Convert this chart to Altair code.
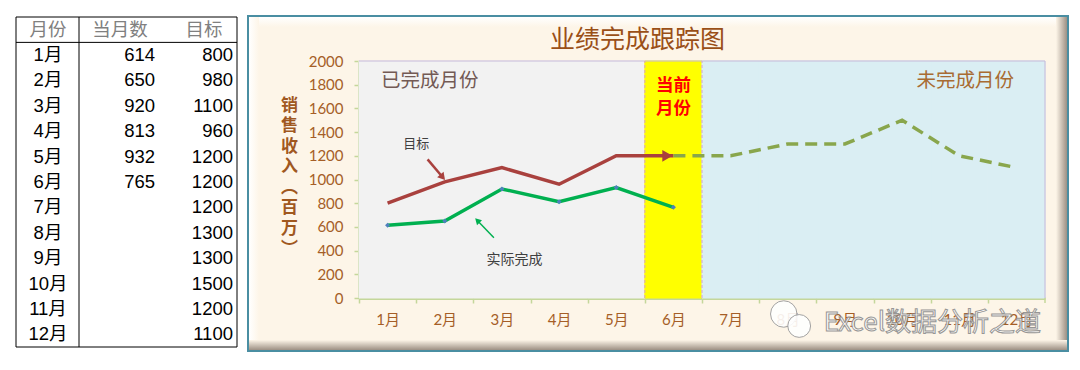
import altair as alt
import pandas as pd

# ---------------- data ----------------
months = ["1月", "2月", "3月", "4月", "5月", "6月", "7月", "8月", "9月", "10月", "11月", "12月"]
month_num = [1, 2, 3, 4, 5, 6, 7, 8, 9, 10, 11, 12]
actual = [614, 650, 920, 813, 932, 765]
target = [800, 980, 1100, 960, 1200, 1200, 1200, 1300, 1300, 1500, 1200, 1100]
status = ["已完成", "已完成", "已完成", "已完成", "已完成", "当前",
          "未完成", "未完成", "未完成", "未完成", "未完成", "未完成"]
status_names = ["已完成", "当前", "未完成"]
table_header = ["月份", "当月数", "目标"]
y_ticks = [0, 200, 400, 600, 800, 1000, 1200, 1400, 1600, 1800, 2000]
chart_title = "业绩完成跟踪图"
y_title = ["销", "售", "收", "入", "︵", "百", "万", "︶"]
done_label = "已完成月份"
todo_label = "未完成月份"
current_label = ["当前", "月份"]
target_note = "目标"
actual_note = "实际完成"
watermark = "Excel数据分析之道"

# ---------------- styling ----------------
W, H = 686, 237
Y_MIN, Y_MAX = 0, 2000
X_MIN, X_MAX = 0.5, 12.5
CJK = "Noto Sans CJK SC"
LAT = "Lato, Noto Sans CJK SC"
ARI = "Liberation Sans, Noto Sans CJK SC"
BROWN = "#a55e27"
CREAM = "#fdf5e8"
TEAL = "#4a8ea2"
AXIS_GREEN = "#c4d79b"
RED_BROWN = "#a9413e"
OLIVE = "#89a64c"
GREEN = "#00b050"
BAND_COLORS = ["#f2f2f2", "#ffff00", "#daeef3"]

# ---------------- frames ----------------
line_df = pd.DataFrame({"m": month_num, "month": months, "target": target, "status": status})
actual_df = pd.DataFrame({"m": month_num[:len(actual)], "actual": actual})
cur_idx = status.index("当前")
solid_df = line_df.iloc[: cur_idx + 1].reset_index(drop=True)
dash_df = line_df.iloc[cur_idx:].reset_index(drop=True)
band_df = pd.DataFrame({"start": [m - 0.5 for m in month_num],
                        "end": [m + 0.5 for m in month_num],
                        "lo": Y_MIN, "hi": Y_MAX,
                        "status": status})
cur_df = band_df[band_df["status"] == "当前"].reset_index(drop=True)
last_df = band_df.tail(1).reset_index(drop=True)
one = pd.DataFrame({"k": [0]})

x_scale = alt.Scale(domain=[X_MIN, X_MAX], nice=False, zero=False)
y_scale = alt.Scale(domain=[Y_MIN, Y_MAX], nice=False)

x_axis = alt.Axis(
    title=None,
    values=[m - 0.5 for m in month_num],
    labelExpr="(datum.value + 0.5) + '月'",
    labelOffset=W / 24, labelFlush=False, labelOverlap=False, labelBound=False,
    labelColor=BROWN, labelFont=LAT, labelFontSize=15, labelPadding=9,
    tickColor=AXIS_GREEN, tickSize=5, tickWidth=1.5,
    domainColor=AXIS_GREEN, domainWidth=3, grid=False,
)
y_axis = alt.Axis(
    title=y_title, format="d",
    values=y_ticks, labelColor=BROWN, labelFont=LAT, labelFontSize=15, labelPadding=11,
    tickColor=AXIS_GREEN, tickSize=5, tickWidth=1.5,
    domainColor=AXIS_GREEN, domainWidth=3, grid=False,
    titleAngle=0, titleAlign="center", titleBaseline="top", titleX=-70, titleY=36,
    titleFont=CJK, titleFontSize=17, titleFontWeight="bold", titleColor="#a0581f",
    titleLineHeight=20.5,
)


def X(field):
    return alt.X(field, type="quantitative", scale=x_scale, axis=x_axis)


def Y(field):
    return alt.Y(field, type="quantitative", scale=y_scale, axis=y_axis)


def grad(c1, c2, horizontal):
    return alt.Gradient(gradient="linear",
                        stops=[alt.GradientStop(color=c1, offset=0), alt.GradientStop(color=c2, offset=1)],
                        x1=0, y1=0, x2=1 if horizontal else 0, y2=0 if horizontal else 1)


band_scale = alt.Scale(domain=status_names, range=BAND_COLORS)
bands = alt.Chart(band_df).mark_rect(strokeWidth=1).encode(
    x=X("start"), x2="end", y=Y("lo"), y2="hi",
    fill=alt.Fill("status:N", scale=band_scale, legend=None),
    stroke=alt.Stroke("status:N", scale=band_scale, legend=None),
)
edge_df = pd.DataFrame({"x0": [X_MIN, X_MAX], "x1": [X_MAX, X_MAX], "y0": [Y_MAX, Y_MIN], "y1": [Y_MAX, Y_MAX]})
plot_edges = alt.Chart(edge_df).mark_rule(color="#c6b9d9", strokeWidth=1).encode(
    x=X("x0"), x2="x1", y=Y("y0"), y2="y1")
# closing tick of the category axis at the right end
end_tick = alt.Chart(last_df).mark_rule(color=AXIS_GREEN, strokeWidth=1.5).encode(
    x=X("end"), y=Y("lo"), y2=alt.value(H + 5))
cur_left = alt.Chart(cur_df).mark_rule(color="#d7a3c9", strokeDash=[3, 2], strokeWidth=1).encode(
    x=X("start"), y=Y("lo"), y2="hi")
cur_right = alt.Chart(cur_df).mark_rule(color="#d7a3c9", strokeDash=[3, 2], strokeWidth=1).encode(
    x=X("end"), y=Y("lo"), y2="hi")

target_solid = alt.Chart(solid_df).mark_line(color=RED_BROWN, strokeWidth=3.5).encode(
    x=X("m"), y=Y("target"))
target_arrow = alt.Chart(solid_df.tail(1)).mark_point(
    shape="triangle-right", filled=True, opacity=1, color=RED_BROWN, size=140, xOffset=-6).encode(
    x=X("m"), y=Y("target"))
target_dash = alt.Chart(dash_df).mark_line(color=OLIVE, strokeWidth=3.5, strokeDash=[12, 7]).encode(
    x=X("m"), y=Y("target"))
actual_line = alt.Chart(actual_df).mark_line(color=GREEN, strokeWidth=3.5).encode(
    x=X("m"), y=Y("actual"))
actual_pts = alt.Chart(actual_df).mark_point(
    shape="diamond", filled=True, opacity=1, color="#4f81bd", size=25).encode(
    x=X("m"), y=Y("actual"))


def note(text, x, y, **mk):
    df = pd.DataFrame({"x": [x], "y": [y], "t": [text]})
    return alt.Chart(df).mark_text(**mk).encode(x=X("x"), y=Y("y"), text="t:N")


def arrow(x0, y0, x1, y1, color, width, angle, size):
    df = pd.DataFrame({"x0": [x0], "y0": [y0], "x1": [x1], "y1": [y1]})
    seg = alt.Chart(df).mark_rule(color=color, strokeWidth=width).encode(
        x=X("x0"), x2="x1", y=Y("y0"), y2="y1")
    head = alt.Chart(df).mark_point(shape="triangle-up", filled=True, opacity=1, color=color,
                                    size=size, angle=angle).encode(x=X("x1"), y=Y("y1"))
    return [seg, head]


def bubble(x, y, size):
    df = pd.DataFrame({"x": [x], "y": [y]})
    return alt.Chart(df).mark_point(shape="circle", filled=True, fill="#ffffff", stroke="#9a9a9a",
                                    strokeWidth=1, opacity=0.9, size=size).encode(x=X("x"), y=Y("y"))


notes = [
    note(chart_title, 5.371, 2177, font=CJK, fontSize=25, color="#9a4f17"),
    note(target_note, 1.5, 1300, font=CJK, fontSize=13, color="#404040"),
    note(actual_note, 3.22, 320, font=CJK, fontSize=14, color="#404040"),
    note(done_label, 0.885, 1831, font=CJK, fontSize=19.5, color="#735a55", align="left"),
    note(todo_label, 11.96, 1831, font=CJK, fontSize=19.5, color="#a86b32", align="right"),
    note(current_label[0], 6, 1789, font=CJK, fontSize=17.5, fontWeight="bold", color="#ff0000"),
    note(current_label[1], 6, 1595, font=CJK, fontSize=17.5, fontWeight="bold", color="#ff0000"),
]
arrows = (arrow(1.70, 1170, 1.964, 1019, RED_BROWN, 2.5, 140, 70)
          + arrow(2.86, 509, 2.57, 654, GREEN, 1.5, 315, 50))

wm = [
    bubble(7.93, -135, 700),
    bubble(8.2, -236, 520),
    note(watermark, 10.53, -208, font=CJK, fontSize=26, fill="#ffffff", stroke="#8c8c8c",
         strokeWidth=1, opacity=0.9),
]

main = alt.layer(
    bands, plot_edges, end_tick, cur_left, cur_right,
    target_solid, target_dash, target_arrow, actual_line, actual_pts,
    *notes, *arrows, *wm,
).properties(
    width=W, height=H,
    view=alt.ViewBackground(stroke="transparent", fill="transparent"),
)

# ---------------- table (also carries the chart frame behind the main panel) ----------------
TW = 221
T_TOP, T_BOT = -44, 286          # table box, pixels relative to the shared plot top
row_order = [table_header[0]] + months
tbl_df = pd.DataFrame({
    "row": months,
    "month": months,
    "actual": [str(v) for v in actual] + [""] * (len(months) - len(actual)),
    "target": [str(v) for v in target],
})
hdr_df = pd.DataFrame({"row": [table_header[0]], "h0": [table_header[0]],
                       "h1": [table_header[1]], "h2": [table_header[2]]})
TY = alt.Y("row:N", sort=row_order,
           scale=alt.Scale(domain=row_order, range=[T_TOP, T_BOT], paddingInner=0, paddingOuter=0),
           axis=None)
ROW_H = (T_BOT - T_TOP) / len(row_order)

# frame of the chart panel (drawn first so the main panel sits on top of it)
FX0, FX1, FY0, FY1 = 232, 1052, -45, 290
frame = [
    alt.Chart(one).mark_rect(fill=CREAM, stroke=TEAL, strokeWidth=2).encode(
        x=alt.value(FX0), x2=alt.value(FX1), y=alt.value(FY0), y2=alt.value(FY1)),
    alt.Chart(one).mark_rect(fill=grad("#ffffff", CREAM, False)).encode(
        x=alt.value(FX0 + 1), x2=alt.value(FX1 - 1), y=alt.value(FY0 + 1), y2=alt.value(FY0 + 11)),
    alt.Chart(one).mark_rect(fill=grad("#ffffff", CREAM, True)).encode(
        x=alt.value(FX0 + 1), x2=alt.value(FX0 + 11), y=alt.value(FY0 + 1), y2=alt.value(FY1 - 1)),
    alt.Chart(one).mark_rect(fill=grad(CREAM, "#9d9084", True)).encode(
        x=alt.value(FX1 - 12), x2=alt.value(FX1 - 1), y=alt.value(FY0 + 1), y2=alt.value(FY1 - 1)),
    alt.Chart(one).mark_rect(fill=grad(CREAM, "#9d9084", False)).encode(
        x=alt.value(FX0 + 1), x2=alt.value(FX1 - 1), y=alt.value(FY1 - 11), y2=alt.value(FY1 - 1)),
]

tbl_layers = frame + [
    alt.Chart(one).mark_rect(fill="#ffffff", stroke="#000000", strokeWidth=1).encode(
        x=alt.value(0), x2=alt.value(TW), y=alt.value(T_TOP), y2=alt.value(T_BOT)),
    alt.Chart(hdr_df).mark_text(font=CJK, fontSize=18.5, color="#808080").encode(
        x=alt.value(32), y=TY, text="h0:N"),
    alt.Chart(hdr_df).mark_text(font=CJK, fontSize=18.5, color="#808080").encode(
        x=alt.value(104), y=TY, text="h1:N"),
    alt.Chart(hdr_df).mark_text(font=CJK, fontSize=18.5, color="#808080").encode(
        x=alt.value(188), y=TY, text="h2:N"),
    alt.Chart(tbl_df).mark_text(font=ARI, fontSize=18.5, color="#000000").encode(
        x=alt.value(32), y=TY, text="month:N"),
    alt.Chart(tbl_df).mark_text(font=ARI, fontSize=18.5, color="#000000", align="right").encode(
        x=alt.value(139), y=TY, text="actual:N"),
    alt.Chart(tbl_df).mark_text(font=ARI, fontSize=18.5, color="#000000", align="right").encode(
        x=alt.value(217), y=TY, text="target:N"),
    alt.Chart(one).mark_rule(color="#000000", strokeWidth=1).encode(
        x=alt.value(0), x2=alt.value(TW), y=alt.value(T_TOP + ROW_H)),
    alt.Chart(one).mark_rule(color="#000000", strokeWidth=1).encode(
        x=alt.value(63), y=alt.value(T_TOP), y2=alt.value(T_BOT)),
]
table = alt.layer(*tbl_layers).properties(
    width=TW, height=H,
    view=alt.ViewBackground(fill="transparent", stroke="transparent"),
)

chart = alt.hconcat(table, main, spacing=343 - TW, bounds="flush").properties(
    padding={"left": 7, "top": 6, "right": 2, "bottom": 4},
    background="#ffffff",
)

chart.save("out.html", embed_options={"renderer": "svg", "actions": False})
